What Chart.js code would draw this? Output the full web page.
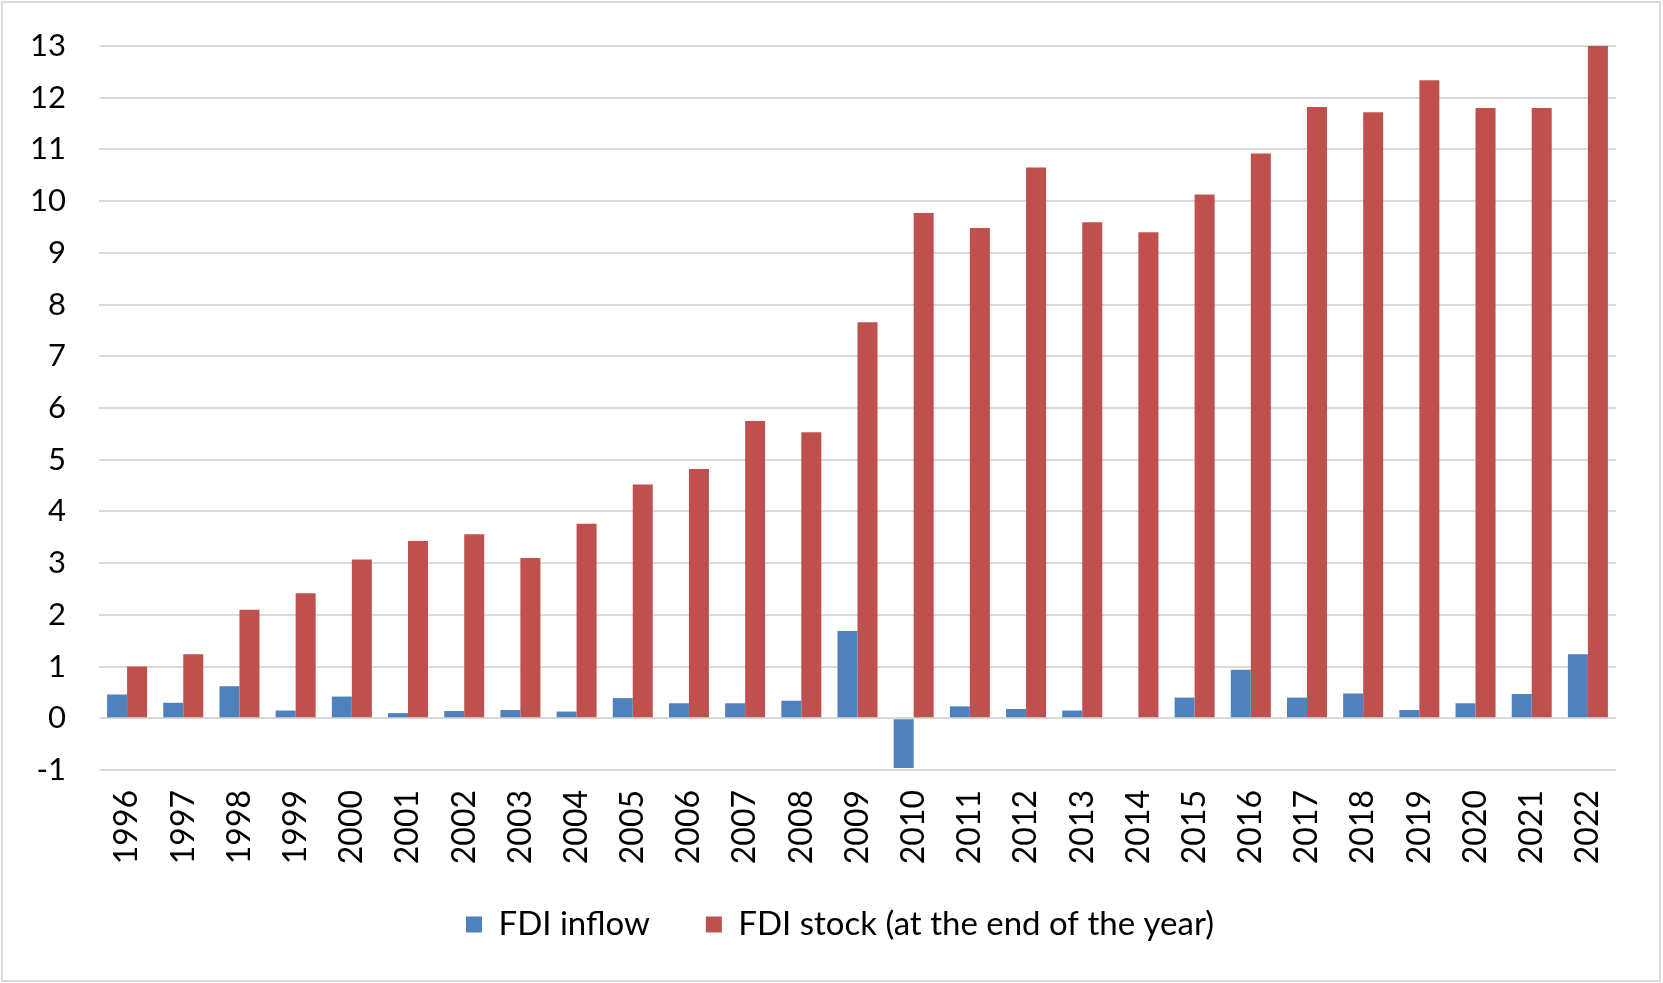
<!DOCTYPE html>
<html>
<head>
<meta charset="utf-8">
<script src="https://cdn.jsdelivr.net/npm/chart.js"></script>
<style>
  html, body { margin: 0; padding: 0; background: #ffffff; }
  #wrap { position: relative; width: 1663px; height: 983px; }
  #frame { position: absolute; left: 1px; top: 1px; width: 1656px; height: 977px; border: 2px solid #d9d9d9; pointer-events: none; }
  canvas { position: absolute; left: 0; top: 0; }
</style>
</head>
<body>
<div id="wrap">
  <canvas id="c" width="1663" height="983"></canvas>
  <div id="frame"></div>
</div>
<script>
const categories = ["1996","1997","1998","1999","2000","2001","2002","2003","2004","2005","2006","2007","2008","2009","2010","2011","2012","2013","2014","2015","2016","2017","2018","2019","2020","2021","2022"];
const fdiInflow = [0.46,0.30,0.62,0.15,0.42,0.10,0.14,0.16,0.13,0.39,0.29,0.29,0.34,1.69,-0.96,0.23,0.18,0.15,0,0.40,0.94,0.40,0.48,0.16,0.29,0.47,1.24];
const fdiStock = [1.00,1.24,2.10,2.42,3.07,3.43,3.56,3.10,3.76,4.52,4.82,5.75,5.53,7.66,9.77,9.48,10.65,9.59,9.40,10.13,10.92,11.82,11.72,12.34,11.80,11.80,13.00];
const seriesNames = ["FDI inflow", "FDI stock (at the end of the year)"];
const yMin = -1, yMax = 13, yStep = 1;

const FONT = "Lato, 'Open Sans', sans-serif";
const PAD_LEFT = 64;

// let tick labels extend outside their (compact) scale boxes instead of being clipped
const noLabelClip = {
  id: "noLabelClip",
  beforeDraw(chart) {
    ["x", "y"].forEach(k => {
      const s = chart.scales[k];
      if (s) s._computeLabelArea = () => undefined;
    });
  }
};

new Chart(document.getElementById("c"), {
  type: "bar",
  data: {
    labels: categories,
    datasets: [
      { label: seriesNames[0], data: fdiInflow, backgroundColor: "#4f81bd", borderWidth: 0, categoryPercentage: 0.712, barPercentage: 1.0 },
      { label: seriesNames[1], data: fdiStock, backgroundColor: "#c0504d", borderWidth: 0, categoryPercentage: 0.712, barPercentage: 1.0 }
    ]
  },
  plugins: [noLabelClip],
  options: {
    responsive: false,
    devicePixelRatio: 1,
    animation: false,
    layout: { padding: { left: PAD_LEFT, right: 47, top: 46, bottom: 32 } },
    plugins: {
      tooltip: { enabled: false },
      legend: {
        position: "bottom",
        labels: {
          boxWidth: 16, boxHeight: 16, padding: 56,
          color: "#000000",
          font: { family: FONT, size: 33 }
        }
      }
    },
    scales: {
      x: {
        grid: { display: false, drawTicks: false },
        border: { display: false },
        ticks: {
          color: "#000000", font: { family: FONT, size: 32 },
          minRotation: 90, maxRotation: 90, autoSkip: false, padding: 20
        },
        afterFit: (s) => { s.height = 82; s.paddingLeft = 0; s.paddingRight = 0; }
      },
      y: {
        min: yMin, max: yMax,
        grid: { color: "#d9d9d9", lineWidth: 2, drawTicks: false },
        border: { display: false },
        ticks: { stepSize: yStep, color: "#000000", font: { family: FONT, size: 31 }, padding: 33 },
        afterFit: (s) => { s.width = 99 - PAD_LEFT; s.paddingTop = 0; s.paddingBottom = 0; }
      }
    }
  }
});
</script>
</body>
</html>
